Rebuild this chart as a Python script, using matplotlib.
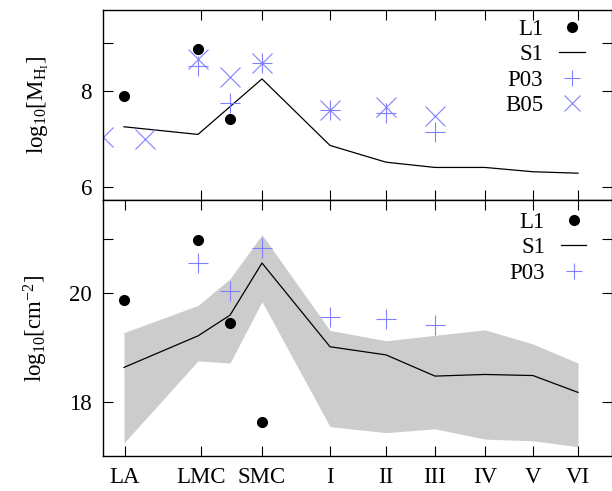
import matplotlib
matplotlib.use('Agg')
import matplotlib.pyplot as plt

plt.rcParams['font.family'] = 'serif'
plt.rcParams['font.serif'] = ['Liberation Serif', 'DejaVu Serif']
plt.rcParams['mathtext.fontset'] = 'custom'
plt.rcParams['mathtext.rm'] = 'Liberation Serif'
plt.rcParams['mathtext.it'] = 'Liberation Serif:italic'
plt.rcParams['font.size'] = 16.5

# category positions on the x axis (arbitrary units)
tick_x = [22, 98, 159, 227, 283, 332, 382, 430, 475]
tick_labels = ['LA', 'LMC', 'SMC', 'I', 'II', 'III', 'IV', 'V', 'VI']

# top panel: log10 M_HI
l1_top_x = [21, 95, 127]
l1_top_y = [7.90, 8.87, 7.41]
s1_top_x = [21, 95, 159, 227, 283, 332, 382, 430, 475]
s1_top_y = [7.25, 7.09, 8.25, 6.86, 6.51, 6.40, 6.40, 6.31, 6.28]
p03_top_x = [95, 127, 159, 227, 283, 332]
p03_top_y = [8.52, 7.74, 8.58, 7.60, 7.53, 7.14]
b05_top_x = [0, 42, 95, 127, 159, 227, 283, 332]
b05_top_y = [7.04, 6.99, 8.66, 8.28, 8.58, 7.60, 7.66, 7.48]

# bottom panel: log10 column density
l1_bot_x = [21, 95, 127, 159]
l1_bot_y = [19.87, 20.98, 19.45, 17.62]
s1_bot_x = [21, 95, 127, 159, 227, 283, 332, 382, 430, 475]
s1_bot_y = [18.63, 19.21, 19.59, 20.55, 19.01, 18.86, 18.47, 18.50, 18.48, 18.17]
s1_bot_hi = [19.27, 19.77, 20.26, 21.07, 19.31, 19.12, 19.22, 19.32, 19.06, 18.71]
s1_bot_lo = [17.24, 18.75, 18.71, 19.84, 17.54, 17.43, 17.50, 17.31, 17.28, 17.17]
p03_bot_x = [95, 127, 159, 227, 283, 332]
p03_bot_y = [20.55, 20.04, 20.82, 19.55, 19.52, 19.41]

blue = '#8080ff'


def add_legend(ax, borderpad, anchor):
    leg = ax.legend(loc='upper right', bbox_to_anchor=anchor, frameon=False,
                    markerfirst=False, handlelength=1.1, handletextpad=0.7,
                    labelspacing=0.2, borderaxespad=0.3, borderpad=borderpad)
    for h in leg.legend_handles:
        if h.get_marker() in ('+', 'x'):
            h.set_markersize(12)
    return leg


fig = plt.figure(figsize=(6.12, 4.91), dpi=100)
ax1 = fig.add_axes([0.1683, 0.5927, 0.8317, 0.3869])
ax2 = fig.add_axes([0.1683, 0.0713, 0.8317, 0.5214])

for ax in (ax1, ax2):
    ax.set_xlim(0, 509)
    ax.tick_params(direction='in', length=7, width=0.8, top=True, right=True, pad=8)
    for sp in ax.spines.values():
        sp.set_linewidth(1.0)

# top panel
ax1.plot(l1_top_x, l1_top_y, 'o', color='black', ms=7, ls='none', label='L1')
ax1.plot(s1_top_x, s1_top_y, '-', color='black', lw=0.9, label='S1')
ax1.plot(p03_top_x, p03_top_y, '+', color=blue, ms=14, mew=0.8, ls='none', label='P03')
ax1.plot(b05_top_x, b05_top_y, 'x', color=blue, ms=14, mew=0.8, ls='none', label='B05')
ax1.set_ylim(5.72, 9.69)
ax1.set_yticks([6, 8, 9])
ax1.set_yticklabels(['6', '8', ''])
ax1.set_xticks(tick_x[1:])
ax1.set_xticklabels([])
ax1.set_ylabel(r'log$_{10}$[M$_{\mathrm{H_I}}$]', labelpad=21)
add_legend(ax1, 0.9, (1.0, 1.1))

# bottom panel
ax2.fill_between(s1_bot_x, s1_bot_lo, s1_bot_hi, color='#cccccc', lw=0)
ax2.plot(l1_bot_x, l1_bot_y, 'o', color='black', ms=7, ls='none', label='L1')
ax2.plot(s1_bot_x, s1_bot_y, '-', color='black', lw=0.9, label='S1')
ax2.plot(p03_bot_x, p03_bot_y, '+', color=blue, ms=14, mew=0.8, ls='none', label='P03')
ax2.set_ylim(17.0, 21.71)
ax2.set_yticks([18, 20, 21])
ax2.set_yticklabels(['18', '20', ''])
ax2.set_xticks(tick_x)
ax2.set_xticklabels(tick_labels)
ax2.set_ylabel(r'log$_{10}$[cm$^{-2}$]', labelpad=14)
add_legend(ax2, 0.6, (0.99, 1.035))

fig.savefig('out.png', dpi=100)
